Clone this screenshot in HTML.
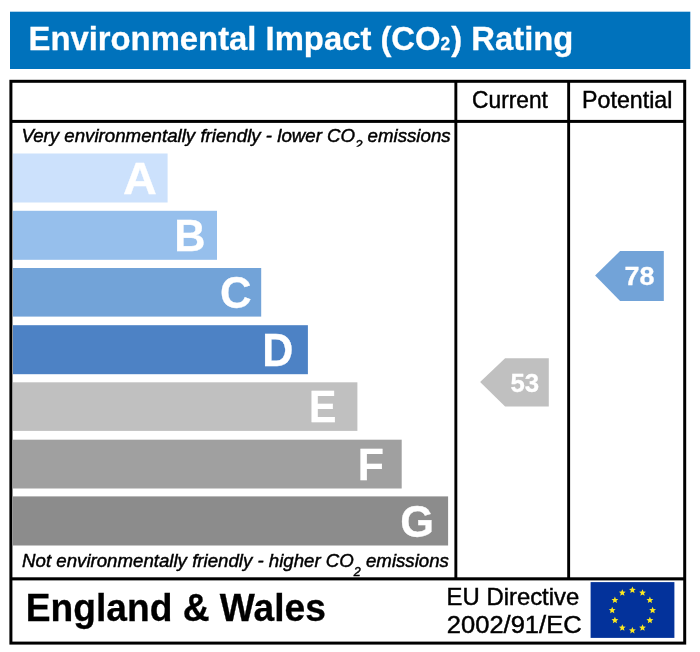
<!DOCTYPE html>
<html lang="en">
<head>
<meta charset="utf-8">
<title>Environmental Impact (CO2) Rating</title>
<style>
  html, body { margin: 0; padding: 0; background: #ffffff; }
  body { width: 700px; height: 652px; overflow: hidden; }
  svg { display: block; }
  text { font-family: "Liberation Sans", Arial, Helvetica, sans-serif; }
  .b { font-weight: bold; }
  .i { font-style: italic; }
  .w { fill: #ffffff; stroke: #ffffff; stroke-width: 0.3px; }
  .k { fill: #000000; stroke: #000000; stroke-width: 0.45px; }
  .b.k { stroke-width: 0.3px; }
</style>
</head>
<body>
<svg width="700" height="652" viewBox="0 0 700 652">
  <rect x="0" y="0" width="700" height="652" fill="#ffffff"/>

  <!-- title banner -->
  <rect x="10" y="11.7" width="680.3" height="57.3" fill="#0072bc"/>
  <text id="t-title" class="b w" transform="translate(28.5,50.0) scale(0.9655,1)" font-size="34">Environmental Impact (CO<tspan font-size="18">2</tspan><tspan dx="1">)</tspan> Rating</text>

  <!-- outer frame -->
  <rect x="10.9" y="81.3" width="673.8" height="561.8" fill="#ffffff" stroke="#000000" stroke-width="3"/>
  <!-- row lines -->
  <rect x="10" y="119.9" width="676" height="3" fill="#000000"/>
  <rect x="10" y="577.3" width="676" height="3.1" fill="#000000"/>
  <!-- column lines -->
  <rect x="454.4" y="80" width="2.9" height="499" fill="#000000"/>
  <rect x="567.2" y="80" width="2.9" height="499" fill="#000000"/>

  <!-- column headings -->
  <text id="t-cur" class="k" transform="translate(472.1,108.2) scale(0.975,1)" font-size="23.3">Current</text>
  <text id="t-pot" class="k" transform="translate(582.1,108.2) scale(0.996,1)" font-size="23.3">Potential</text>

  <!-- top caption -->
  <clipPath id="capclip"><rect x="13" y="123" width="441" height="23.7"/></clipPath>
  <g clip-path="url(#capclip)">
    <text id="t-top" class="i k" transform="translate(21.4,142.0) scale(1.0,1)" font-size="18.7">Very environmentally friendly - lower CO<tspan font-size="13" dy="7.4">2</tspan><tspan dy="-7.4"> emissions</tspan></text>
  </g>

  <!-- bars -->
  <rect x="13" y="153.5" width="154.6" height="49.0" fill="#cce1fc"/>
  <rect x="13" y="210.8" width="204.0" height="49.0" fill="#96bfec"/>
  <rect x="13" y="268.0" width="248.2" height="48.6" fill="#72a3d8"/>
  <rect x="13" y="325.2" width="294.9" height="49.0" fill="#4d82c5"/>
  <rect x="13" y="382.3" width="344.4" height="48.6" fill="#c0c0c0"/>
  <rect x="13" y="439.7" width="388.7" height="48.8" fill="#a0a0a0"/>
  <rect x="13" y="496.4" width="435.1" height="49.1" fill="#8c8c8c"/>

  <text id="l-a" class="b w" transform="translate(122.9,194.0) scale(1.047,1)" font-size="44.8">A</text>
  <text id="l-b" class="b w" transform="translate(174.35,251.1) scale(0.965,1)" font-size="44.8">B</text>
  <text id="l-c" class="b w" transform="translate(220.05,308.4) scale(0.976,1)" font-size="44.8">C</text>
  <text id="l-d" class="b w" transform="translate(262.3,366.3) scale(0.95,1)" font-size="45.4">D</text>
  <text id="l-e" class="b w" transform="translate(309.1,422.3) scale(0.917,1)" font-size="44.8">E</text>
  <text id="l-f" class="b w" transform="translate(357.8,480.3) scale(0.956,1)" font-size="44.8">F</text>
  <text id="l-g" class="b w" transform="translate(400.3,537.4) scale(0.97,1)" font-size="44.8">G</text>

  <!-- bottom caption -->
  <text id="t-bot" class="i k" transform="translate(22.1,566.8) scale(0.998,1)" font-size="18.7">Not environmentally friendly - higher CO<tspan font-size="12.5" dy="9">2</tspan><tspan dy="-9"> emissions</tspan></text>

  <!-- rating arrows -->
  <polygon points="480.1,381.9 505.1,358.2 548.8,358.2 548.8,406.6 505.1,406.6" fill="#c0c0c0"/>
  <text id="n-cur" class="b w" transform="translate(510.5,392.0) scale(1.0,1)" font-size="25.8">53</text>
  <polygon points="595.1,275.5 620.1,251 663.8,251 663.8,300.9 620.1,300.9" fill="#72a3d8"/>
  <text id="n-pot" class="b w" transform="translate(624.5,285.3) scale(1.045,1)" font-size="25.8">78</text>

  <!-- footer -->
  <text id="t-ew" class="b k" transform="translate(25.8,621.4) scale(0.978,1)" font-size="38">England &amp; Wales</text>
  <text id="t-eu1" class="k" transform="translate(446.6,604.9) scale(0.995,1)" font-size="24">EU Directive</text>
  <text id="t-eu2" class="k" transform="translate(446.8,633.0) scale(1.064,1)" font-size="24">2002/91/EC</text>

  <!-- EU flag -->
  <rect x="590.6" y="582.1" width="83.8" height="55.8" fill="#03329b"/>
  <g id="stars" fill="#fbe820">
    <polygon points="632.40,586.50 633.35,588.79 635.82,588.99 633.94,590.60 634.52,593.01 632.40,591.72 630.28,593.01 630.86,590.60 628.98,588.99 631.45,588.79"/>
    <polygon points="642.50,589.21 643.45,591.50 645.92,591.69 644.04,593.31 644.62,595.72 642.50,594.43 640.38,595.72 640.96,593.31 639.08,591.69 641.55,591.50"/>
    <polygon points="649.89,596.60 650.85,598.89 653.32,599.09 651.43,600.70 652.01,603.11 649.89,601.82 647.78,603.11 648.35,600.70 646.47,599.09 648.94,598.89"/>
    <polygon points="652.60,606.70 653.55,608.99 656.02,609.19 654.14,610.80 654.72,613.21 652.60,611.92 650.48,613.21 651.06,610.80 649.18,609.19 651.65,608.99"/>
    <polygon points="649.89,616.80 650.85,619.09 653.32,619.29 651.43,620.90 652.01,623.31 649.89,622.02 647.78,623.31 648.35,620.90 646.47,619.29 648.94,619.09"/>
    <polygon points="642.50,624.19 643.45,626.48 645.92,626.68 644.04,628.29 644.62,630.71 642.50,629.41 640.38,630.71 640.96,628.29 639.08,626.68 641.55,626.48"/>
    <polygon points="632.40,626.90 633.35,629.19 635.82,629.39 633.94,631.00 634.52,633.41 632.40,632.12 630.28,633.41 630.86,631.00 628.98,629.39 631.45,629.19"/>
    <polygon points="622.30,624.19 623.25,626.48 625.72,626.68 623.84,628.29 624.42,630.71 622.30,629.41 620.18,630.71 620.76,628.29 618.88,626.68 621.35,626.48"/>
    <polygon points="614.91,616.80 615.86,619.09 618.33,619.29 616.45,620.90 617.02,623.31 614.91,622.02 612.79,623.31 613.37,620.90 611.48,619.29 613.95,619.09"/>
    <polygon points="612.20,606.70 613.15,608.99 615.62,609.19 613.74,610.80 614.32,613.21 612.20,611.92 610.08,613.21 610.66,610.80 608.78,609.19 611.25,608.99"/>
    <polygon points="614.91,596.60 615.86,598.89 618.33,599.09 616.45,600.70 617.02,603.11 614.91,601.82 612.79,603.11 613.37,600.70 611.48,599.09 613.95,598.89"/>
    <polygon points="622.30,589.21 623.25,591.50 625.72,591.69 623.84,593.31 624.42,595.72 622.30,594.43 620.18,595.72 620.76,593.31 618.88,591.69 621.35,591.50"/>
  </g>
</svg>
</body>
</html>
